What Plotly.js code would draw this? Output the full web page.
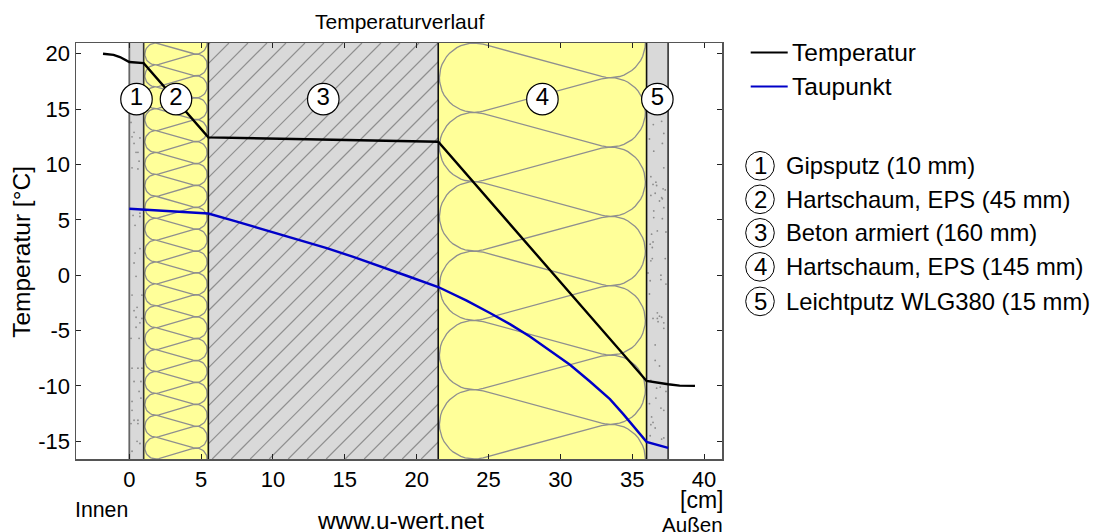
<!DOCTYPE html>
<html>
<head>
<meta charset="utf-8">
<script src="https://cdn.plot.ly/plotly-3.0.1.min.js"></script>
<style>html,body{margin:0;padding:0;background:#fff}#chart{width:1093px;height:532px}</style>
</head>
<body>
<div id="chart"></div>
<script>
const tempX = [-1.83,-1.1,-0.65,-0.2,0,1,5.5,21.5,36,37.5,38.3,39.37];
const tempY = [20,19.9,19.7,19.4,19.25,19.15,12.45,12.05,-9.55,-9.85,-9.97,-10];
const dewX = [0,1,5.5,7.24,9.56,11.65,13.74,15.59,17.45,19.3,21.5,23.48,25.1,26.49,27.88,29.28,30.67,32.06,33.45,34.38,35.31,36,37.5];
const dewY = [6,5.92,5.57,4.93,4.05,3.25,2.44,1.65,0.82,-0.05,-1.07,-2.3,-3.42,-4.42,-5.54,-6.8,-8.09,-9.6,-11.2,-12.55,-13.97,-15.05,-15.6];
const layerEdges = [0,1,5.5,21.5,36,37.5];
const layerNames = ["Gipsputz (10 mm)","Hartschaum, EPS (45 mm)","Beton armiert (160 mm)","Hartschaum, EPS (145 mm)","Leichtputz WLG380 (15 mm)"];
const layerIds = ["1","2","3","4","5"];
const labelCentersX = [0.5,3.25,13.5,28.75,36.75];
const labelY = [15.9,15.9,15.9,15.9,15.9];
const seriesNames = ["Temperatur","Taupunkt"];
const seriesColors = ["#000000","#0000c8"];
const xTicks = [0,5,10,15,20,25,30,35,40];
const yTicks = [20,15,10,5,0,-5,-10,-15];
const stippleX = [0.12,0.33,0.19,0.74,0.33,0.47,0.6,0.68,0.19,0.6,0.74,0.26,0.74,0.4,0.74,0.4,0.33,0.47,0.19,0.88,0.54,0.33,0.47,0.88,0.74,0.47,0.12,0.68,0.19,0.6,0.88,0.33,0.81,0.68,0.81,0.19,0.19,0.33,0.6,0.6,0.12,0.54,0.74,0.19,
36.47,37.05,37.2,36.2,37.1,36.5,37.2,36.3,36.65,36.45,36.7,37.15,37.3,36.6,36.3,37.05,37.1,36.9,37.2,36.5,36.5,37.1,36.75,37.35,36.35,36.45,36.25,36.4,36.4,36.3,37.3,37,36.1,36.25,37,37.35,36.2,36.75,36.9,36.45,36.75,37.05,36.8,37.2,37.2,36.6,36.6,36.9,36.3,36.95,36.7,37.35,36.65,36.2,37,37.2,36.35,36.45,36.3,36.6,36.25,37.05,37.2];
const stippleY = [13.8,12.9,12.5,12.4,11.9,11.1,11.1,10.3,9.7,9.6,5.6,5.4,5.3,4.5,2.4,2,1.1,-0.1,-1.8,-1.8,-2.9,-3.2,-3.8,-3.9,-4.3,-4.7,-5.7,-5.7,-8.4,-8.4,-8.4,-9.6,-9.6,-10.5,-11.1,-11.4,-12.2,-13.1,-13.1,-13.4,-13.4,-15,-15.2,-15.9,
13.6,13.9,12.8,12.3,11.9,11.2,9.7,8.9,8.4,8.2,8.1,7.8,7.7,7.4,7.2,7,6.9,6.7,6.1,5.8,5.2,5.1,4,3.9,3.7,3,2.8,2.5,1.5,1.3,1.5,0,0.2,-0.5,-0.4,-0.8,-1.7,-3.4,-3.7,-3.9,-3.9,-3.8,-4.2,-4.3,-4.8,-6.3,-7.7,-8.2,-9.5,-10.1,-10.2,-10.5,-11.1,-11.6,-12,-12.2,-12.8,-13.3,-13.5,-13.8,-14.5,-14.8,-14.7];

const W=1093,H=532,L=76,R=722,T=43.3,B=459;
const xRange=[-3.71,41.25], yRange=[-16.6,20.97];
const sx=(R-L)/(xRange[1]-xRange[0]), sy=(B-T)/(yRange[1]-yRange[0]);
const px=v=>(v-L)/(R-L), py=v=>(B-v)/(B-T);
const GREY="#8f8f8f";

const FONT="Liberation Sans, Arial, sans-serif";
const FS=22;

function insulation(x0,x1,periods){
  const xs=[],ys=[];
  const pad=1.2;
  const plotH=B-T, p=plotH/periods, r=p/2;
  const leftPx=(x0-xRange[0])*sx+pad, rightPx=(x1-xRange[0])*sx-pad;
  const lx=leftPx+r, rx=rightPx-r, D=rx-lx, dist=Math.hypot(D,r);
  const beta=Math.asin(Math.min(1,2*r/dist));
  const phi=Math.atan2(r,D)-beta;
  const a=Math.atan2(Math.cos(phi),-Math.sin(phi));
  const N=28;
  const add=(cx,cy,a0,a1)=>{for(let i=0;i<=N;i++){const t=a0+(a1-a0)*i/N;
    xs.push((cx+r*Math.cos(t))/sx+xRange[0]);
    ys.push(yRange[1]-(cy+r*Math.sin(t))/sy);}};
  for(let k=-1;k<=periods;k++){
    const yc=r+p*k;
    add(lx,yc,-a,a-2*Math.PI);
    add(rx,yc+r,Math.PI+a,3*Math.PI-a);
  }
  return {x:xs,y:ys,type:'scatter',mode:'lines',line:{color:GREY,width:1.3},hoverinfo:'skip',showlegend:false};
}
function hatch(x0,x1){
  const xs=[],ys=[];
  const stepPx=19, slope=1.0;
  const w=(x1-x0)*sx, h=B-T;
  for(let c=-h/slope-19+0.9+0.7;c<w;c+=stepPx){
    let y0=0,y1=h;
    if(c<0) y0=-c*slope;
    if(c+h/slope>w) y1=(w-c)*slope;
    if(y1<=y0) continue;
    xs.push(x0+(c+y0/slope)/sx, x0+(c+y1/slope)/sx, null);
    ys.push(yRange[0]+y0/sy, yRange[0]+y1/sy, null);
  }
  return {x:xs,y:ys,type:'scatter',mode:'lines',line:{color:GREY,width:1.2},hoverinfo:'skip',showlegend:false};
}
function vline(x,color,width){
  return {x:[x,x],y:yRange,type:'scatter',mode:'lines',line:{color:color,width:width},hoverinfo:'skip',showlegend:false};
}
const traces=[
  hatch(layerEdges[2],layerEdges[3]),
  insulation(layerEdges[1],layerEdges[2],19),
  insulation(layerEdges[3],layerEdges[4],6),
  {x:stippleX,y:stippleY,type:'scatter',mode:'markers',marker:{size:1.8,color:'#8c8c8c'},hoverinfo:'skip',showlegend:false},
  vline(layerEdges[0],'#666666',1.8),
  vline(layerEdges[1],'#333333',1.6),
  vline(layerEdges[2],'#111111',1.6),
  vline(layerEdges[3],'#111111',1.6),
  vline(layerEdges[4],'#111111',1.6),
  vline(layerEdges[5],'#444444',1.8),
  {x:dewX,y:dewY,type:'scatter',mode:'lines',name:seriesNames[1],line:{color:seriesColors[1],width:2.4},showlegend:false},
  {x:tempX,y:tempY,type:'scatter',mode:'lines',name:seriesNames[0],line:{color:seriesColors[0],width:2.4},showlegend:false},
  {x:labelCentersX,y:labelY,text:layerIds,type:'scatter',mode:'markers+text',textposition:'middle center',
   textfont:{family:FONT,size:24,color:'#000'},marker:{size:31.5,color:'#fff',line:{color:'#000',width:1.2}},hoverinfo:'skip',showlegend:false}
];
const fills=["#d9d9d9","#ffff99","#d9d9d9","#ffff99","#d9d9d9"];
const shapes=fills.map((c,i)=>({type:'rect',layer:'below',xref:'x',yref:'y',x0:layerEdges[i],x1:layerEdges[i+1],y0:yRange[0],y1:yRange[1],fillcolor:c,line:{width:0}}));
const ann=[];
const text=(t,x,y,anchor,size,extra)=>ann.push(Object.assign({text:t,xref:'paper',yref:'paper',x:px(x),y:py(y),xanchor:anchor,yanchor:'middle',showarrow:false,font:{family:FONT,size:size||FS,color:'#000'}},extra||{}));
[52.7,86.7].forEach((y,i)=>{
  shapes.push({type:'line',xref:'paper',yref:'paper',x0:px(750.7),x1:px(787.7),y0:py(y),y1:py(y),line:{color:seriesColors[i],width:2}});
  text(seriesNames[i],790.5,y,'left',24.5);
});
const rowY=[166,199.5,233,267,301.5];
layerNames.forEach((n,i)=>{
  const y=rowY[i],r=14.3;
  shapes.push({type:'circle',xref:'paper',yref:'paper',x0:px(760-r),x1:px(760+r),y0:py(y-r),y1:py(y+r),line:{color:'#000',width:1},fillcolor:'#fff'});
  text(layerIds[i],760,y,'center',24);
  text(n,783.5,y,'left',23.8);
});
text("Temperaturverlauf",399,22,'center',21);
text("Temperatur [°C]",22,252,'center',24.5,{textangle:-90});
text("[cm]",725,500,'right',23);
text("Außen",724.5,524,'right',20.6);
text("Innen",72.5,510,'left',21.3);
text("www.u-wert.net",400,520,'center',24.3);

const axisCommon={showgrid:false,zeroline:false,showline:true,linecolor:'#555555',linewidth:1.5,mirror:'ticks',ticks:'inside',ticklen:5,tickcolor:'#222222',tickwidth:1,tickfont:{family:FONT,size:FS,color:'#000'},tickmode:'array'};
Plotly.newPlot('chart',traces,{
  width:W,height:H,margin:{l:L,r:W-R,t:T,b:H-B,pad:0},paper_bgcolor:'#fff',plot_bgcolor:'#fff',showlegend:false,
  xaxis:Object.assign({},axisCommon,{range:xRange,tickvals:xTicks,ticktext:xTicks.map(String)}),
  yaxis:Object.assign({},axisCommon,{range:yRange,tickvals:yTicks,ticktext:yTicks.map(String)}),
  shapes:shapes,annotations:ann
},{displayModeBar:false,staticPlot:true});
</script>
</body>
</html>
